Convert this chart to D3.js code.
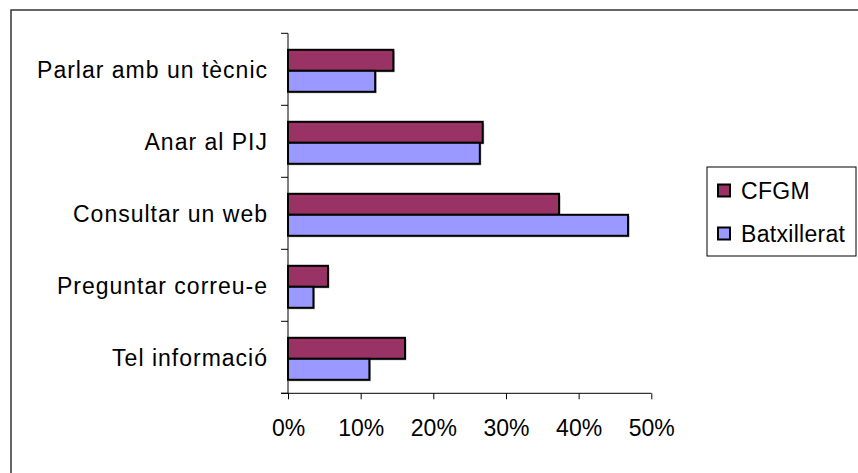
<!DOCTYPE html>
<html>
<head>
<meta charset="utf-8">
<script src="https://cdn.jsdelivr.net/npm/d3@7"></script>
<style>
  html, body { margin: 0; padding: 0; background: #fff; }
  svg { display: block; font-family: "Liberation Sans", Arial, sans-serif; }
</style>
</head>
<body>
<svg id="chart" width="858" height="473"></svg>
<script>
const categories = ["Parlar amb un tècnic", "Anar al PIJ", "Consultar un web", "Preguntar correu-e", "Tel informació"];
const seriesNames = ["CFGM", "Batxillerat"];
const cfgm = [0.145, 0.268, 0.373, 0.055, 0.161];
const batxillerat = [0.12, 0.264, 0.468, 0.035, 0.112];
const xTicks = [0, 0.1, 0.2, 0.3, 0.4, 0.5];
const colors = ["#993366", "#9999FF"];

const values = [cfgm, batxillerat];
const svg = d3.select("#chart");

// outer chart border
svg.append("rect").attr("x", 11).attr("y", 10).attr("width", 900).attr("height", 500)
  .attr("fill", "none").attr("stroke", "#333").attr("stroke-width", 1.5);

const plot = { left: 288, right: 651.3, top: 33.3, bottom: 393.3 };
const x = d3.scaleLinear().domain([0, 0.5]).range([plot.left, plot.right]);
const y = d3.scaleBand().domain(categories).range([plot.top, plot.bottom]).paddingInner(0).paddingOuter(0);
const inner = d3.scaleBand().domain(seriesNames).range([0, 42]);
const groupOffset = (y.bandwidth() - 42) / 2 + 1.5;

// bars
categories.forEach((c, i) => {
  seriesNames.forEach((s, j) => {
    const v = values[j][i];
    const bx = x(0), by = y(c) + groupOffset + inner(s), bw = x(v) - x(0), bh = inner.bandwidth();
    svg.append("rect").attr("x", bx + 1.5).attr("y", by + 1.5).attr("width", bw).attr("height", bh)
      .attr("fill", "#b0b0b0");
    svg.append("rect").attr("x", bx).attr("y", by).attr("width", bw).attr("height", bh)
      .attr("fill", colors[j]).attr("stroke", "#000").attr("stroke-width", 2);
  });
});

// y axis
const yAxisG = svg.append("g");
yAxisG.append("line").attr("x1", plot.left).attr("x2", plot.left).attr("y1", plot.top).attr("y2", plot.bottom)
  .attr("stroke", "#000").attr("stroke-width", 1);
const bounds = categories.map(c => y(c)).concat([y(categories[categories.length - 1]) + y.bandwidth()]);
bounds.forEach(b => {
  yAxisG.append("line").attr("x1", plot.left - 7).attr("x2", plot.left).attr("y1", b).attr("y2", b)
    .attr("stroke", "#000").attr("stroke-width", 1);
});
categories.forEach(c => {
  yAxisG.append("text").attr("x", 268).attr("y", y(c) + y.bandwidth() / 2 + 1)
    .attr("dy", "0.35em").attr("text-anchor", "end").attr("font-size", 23).attr("fill", "#000")
    .attr("letter-spacing", 1)
    .text(c);
});

// x axis
const xAxis = d3.axisBottom(x).tickValues(xTicks).tickSize(6).tickSizeOuter(0)
  .tickFormat(d3.format(".0%"));
const xg = svg.append("g").attr("transform", `translate(0,${plot.bottom})`).call(xAxis);
xg.select(".domain").remove();
xg.append("line").attr("x1", plot.left - 7).attr("x2", plot.right).attr("y1", 0).attr("y2", 0)
  .attr("stroke", "#000");
xg.selectAll(".tick line").attr("stroke", "#000");
xg.selectAll(".tick text").attr("font-size", 23).attr("fill", "#000")
  .attr("font-family", "Liberation Sans, Arial, sans-serif").attr("y", 26).attr("dy", "0.71em");

// legend
const lg = svg.append("g");
lg.append("rect").attr("x", 707).attr("y", 167).attr("width", 149).attr("height", 89)
  .attr("fill", "#fff").attr("stroke", "#000").attr("stroke-width", 1);
seriesNames.forEach((s, j) => {
  const cy = 190.5 + j * 43;
  lg.append("rect").attr("x", 718).attr("y", cy - 6).attr("width", 12).attr("height", 12)
    .attr("fill", colors[j]).attr("stroke", "#000").attr("stroke-width", 2);
  lg.append("text").attr("x", 741).attr("y", cy).attr("dy", "0.35em").attr("font-size", 23)
    .attr("letter-spacing", 0.3)
    .attr("fill", "#000").text(s);
});
</script>
</body>
</html>
